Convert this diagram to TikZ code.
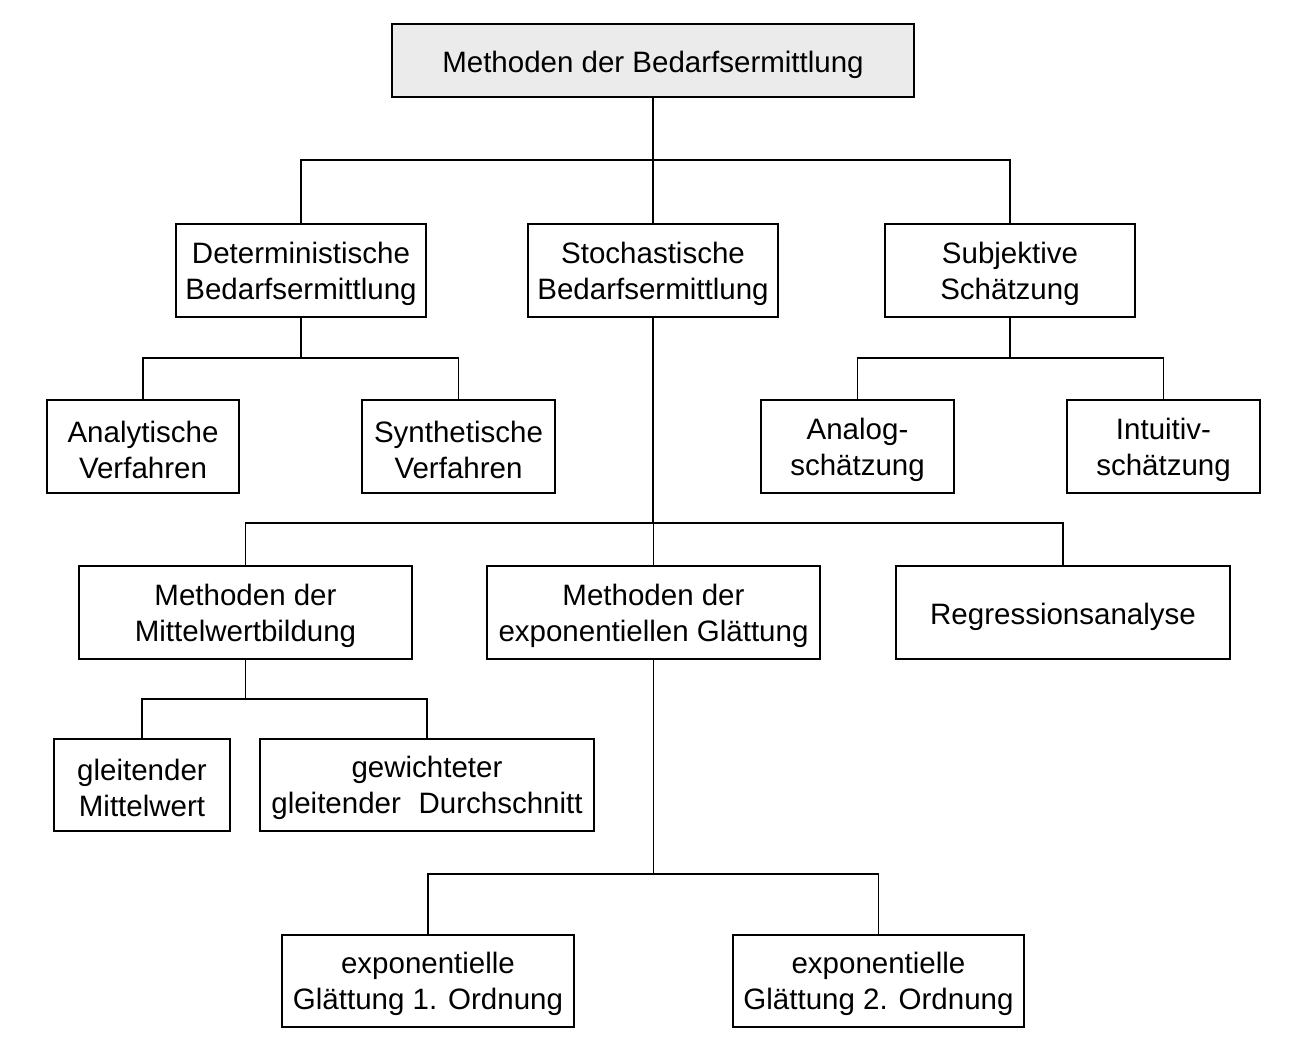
\documentclass[tikz,border=0pt]{standalone}
\usepackage{fontspec}
\setmainfont{Liberation Sans}
\begin{document}
\begin{tikzpicture}[x=1pt,y=-1pt,
  box/.style={draw=black,line width=1.6pt,inner sep=0pt},
  txt/.style={inner sep=0pt,align=center,font=\fontsize{29.5}{36}\selectfont},
  ln/.style={line width=1.6pt}]
\useasboundingbox (0,0) rectangle (1306,1062);
\node[box,fill=black!8,minimum width=522,minimum height=73] (root) at (653,60.5) {};
\node[box,minimum width=250,minimum height=93] (det) at (301,270.5) {};
\node[box,minimum width=250,minimum height=93] (sto) at (653,270.5) {};
\node[box,minimum width=250,minimum height=93] (sub) at (1010,270.5) {};
\node[box,minimum width=192,minimum height=93] (ana) at (143,446.5) {};
\node[box,minimum width=193,minimum height=93] (syn) at (458.5,446.5) {};
\node[box,minimum width=193,minimum height=93] (alg) at (857.5,446.5) {};
\node[box,minimum width=193,minimum height=93] (int) at (1163.5,446.5) {};
\node[box,minimum width=333,minimum height=93] (mit) at (245.5,612.5) {};
\node[box,minimum width=333,minimum height=93] (exp) at (653.5,612.5) {};
\node[box,minimum width=334,minimum height=93] (reg) at (1063,612.5) {};
\node[box,minimum width=176,minimum height=92] (gle) at (142,785) {};
\node[box,minimum width=334,minimum height=92] (gew) at (427,785) {};
\node[box,minimum width=292,minimum height=92] (e1) at (428,981) {};
\node[box,minimum width=291,minimum height=92] (e2) at (878.5,981) {};
\node[txt] (root-t) at ([yshift=-4pt]root.center) {Methoden der Bedarfsermittlung};
\node[txt] (det-t) at ([yshift=-3pt]det.center) {Deterministische\\Bedarfsermittlung};
\node[txt] (sto-t) at ([yshift=-3pt]sto.center) {Stochastische\\Bedarfsermittlung};
\node[txt] (sub-t) at ([yshift=-3pt]sub.center) {Subjektive\\Schätzung};
\node[txt] (ana-t) at ([yshift=-3pt]ana.center) {Analytische\\Verfahren};
\node[txt] (syn-t) at ([yshift=-3pt]syn.center) {Synthetische\\Verfahren};
\node[txt] (alg-t) at ([yshift=-3pt]alg.center) {Analog-\\schätzung};
\node[txt] (int-t) at ([yshift=-3pt]int.center) {Intuitiv-\\schätzung};
\node[txt] (mit-t) at ([yshift=-3pt]mit.center) {Methoden der\\Mittelwertbildung};
\node[txt] (exp-t) at ([yshift=-3pt]exp.center) {Methoden der\\exponentiellen Glättung};
\node[txt] (reg-t) at ([yshift=-4pt]reg.center) {Regressionsanalyse};
\node[txt] (gle-t) at ([yshift=-3pt]gle.center) {gleitender\\Mittelwert};
\node[txt] (gew-t) at ([yshift=-3pt]gew.center) {gewichteter\\gleitender\hspace{0.6em}Durchschnitt};
\node[txt] (e1-t) at ([yshift=-3pt]e1.center) {exponentielle\\Glättung 1. Ordnung};
\node[txt] (e2-t) at ([yshift=-3pt]e2.center) {exponentielle\\Glättung 2. Ordnung};
\coordinate (j1) at (0,160);
\coordinate (j2) at (0,358);
\coordinate (j3) at (0,523);
\coordinate (j4) at (0,699);
\coordinate (j5) at (0,874);
\draw[ln] (root.south) -- (root.south |- j1);
\draw[ln] (det.north) |- (sub.north |- j1) -- (sub.north);
\draw[ln] (sto.north) -- (sto.north |- j1);
\draw[ln] (det.south) -- (det.south |- j2);
\draw[ln] (ana.north) |- (syn.north |- j2) -- (syn.north);
\draw[ln] (sub.south) -- (sub.south |- j2);
\draw[ln] (alg.north) |- (int.north |- j2) -- (int.north);
\draw[ln] (sto.south) -- (sto.south |- j3);
\draw[ln] (mit.north) |- (reg.north |- j3) -- (reg.north);
\draw[ln] (exp.north) -- (exp.north |- j3);
\draw[ln] (mit.south) -- (mit.south |- j4);
\draw[ln] (gle.north) |- (gew.north |- j4) -- (gew.north);
\draw[ln] (exp.south) -- (exp.south |- j5);
\draw[ln] (e1.north) |- (e2.north |- j5) -- (e2.north);
\end{tikzpicture}
\end{document}
